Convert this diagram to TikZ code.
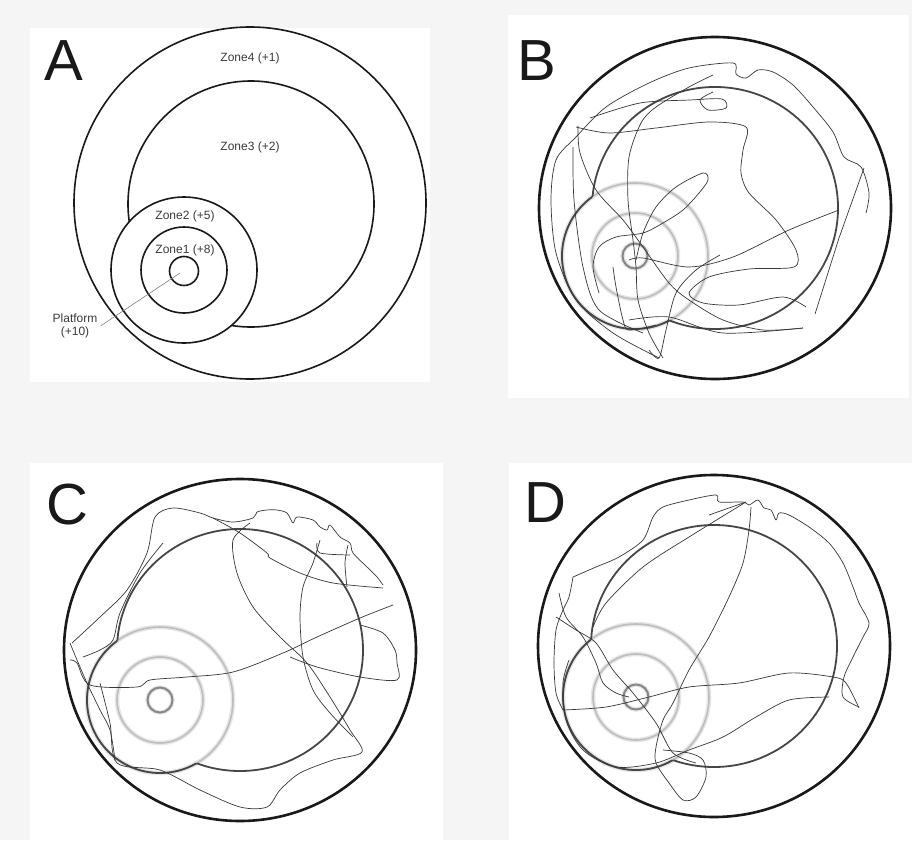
\documentclass[tikz,border=0pt]{standalone}
\usepackage{fontspec}
\setmainfont{Liberation Sans}
\definecolor{PoolBack}{RGB}{245,245,245}
\definecolor{PoolInk}{RGB}{25,25,25}
\definecolor{PoolZone}{RGB}{70,70,70}
\definecolor{PoolRing}{RGB}{190,190,190}
\definecolor{PoolHalo}{RGB}{230,230,230}
\definecolor{PoolCore}{RGB}{135,135,135}
\definecolor{PoolPath}{RGB}{55,55,55}

\begin{document}
\begin{tikzpicture}[
	x=1pt,
	y=-1pt,
	panelbox/.style={fill=white, draw=none},
	zoneA/.style={draw=PoolInk, line width=1.6pt},
	zonetext/.style={font=\fontsize{12}{13}\selectfont, text=PoolInk!85, inner sep=0pt},
	paneltag/.style={font=\fontsize{58}{58}\selectfont, text=PoolInk, inner sep=0pt},
	arenawall/.style={draw=PoolInk, line width=2.6pt},
	zonewall/.style={draw=PoolZone, line width=1.8pt},
	ringhalo/.style={draw=PoolHalo, line width=4.5pt},
	ringsoft/.style={draw=PoolRing, line width=1.6pt},
	ringcore/.style={draw=PoolCore, line width=2pt},
	swim/.style={draw=PoolPath, line width=0.7pt, line join=round},
	pointer/.style={draw=gray, line width=0.6pt}
	]
	
	\fill[PoolBack] (0,0) rectangle (912,840);
	\useasboundingbox (0,0) rectangle (912,840);
	
	\fill[panelbox] (30,28) rectangle (430,382);
	\fill[panelbox] (508,15) rectangle (909,398);
	\fill[panelbox] (30,463) rectangle (443,840);
	\fill[panelbox] (509,463) rectangle (912,840);
	
	\begin{scope}[even odd rule]
		\clip (0,0) rectangle (912,840) (184,270) circle (73);
		\draw[zoneA] (251,204) circle (123);
	\end{scope}
	\draw[zoneA] (250,203) circle (176);
	\draw[zoneA] (184,270) circle (73);
	\draw[zoneA] (184,270) circle (43);
	\draw[zoneA] (184,271) circle (14.5);
	
	\node[zonetext] (zone4A) at (250,58) {Zone4 (+1)};
	\node[zonetext] (zone3A) at (250,147) {Zone3 (+2)};
	\node[zonetext] (zone2A) at (185,216) {Zone2 (+5)};
	\node[zonetext] (zone1A) at (185,250) {Zone1 (+8)};
	\node[zonetext, align=center, inner sep=3pt] (plabel) at (75,326) {Platform\\(+10)};
	\coordinate (pA) at (180,273);
	\draw[pointer] (plabel.east) -- (pA);
	
	\foreach \ax/\ay/\px/\py in {715/208/635/256, 240/650/160/700, 714/646/636/697}{
		\draw[ringhalo] (\px,\py) circle (73);
		\draw[ringhalo] (\px,\py) circle (43);
		\draw[ringhalo] (\px,\py) circle (12.5);
		\draw[ringsoft] (\px,\py) circle (73);
		\draw[ringsoft] (\px,\py) circle (43);
		\draw[ringcore] (\px,\py) circle (12.5);
		\begin{scope}[even odd rule]
			\clip (0,0) rectangle (912,840) (\px,\py) circle (73);
			\draw[zonewall] (\ax,\ay) ellipse [x radius=123, y radius=121];
		\end{scope}
		\begin{scope}[even odd rule]
			\clip (0,0) rectangle (912,840) (\ax,\ay) ellipse [x radius=123, y radius=121];
			\draw[zonewall] (\px,\py) circle (73);
		\end{scope}
		\draw[arenawall] (\ax,\ay) ellipse [x radius=176, y radius=171];
	}
	
	\draw[swim] plot[smooth, tension=0.5] coordinates {(659,358) (613,333) (576,300) (556,253) (551,200) (556,160) (576,137) (606,107) (649,83) (689,68) (733,63) (736,74) (746,78) (758,70) (773,72) (793,85) (813,107) (833,132) (844,157) (861,167) (869,193) (866,213)};
	\draw[swim] (864,168) -- (839,238) -- (815,314);
	\draw[swim] plot[smooth, tension=0.5] coordinates {(839,210) (789,230) (733,257) (689,267) (643,258) (629,260)};
	\draw[swim] plot[smooth, tension=0.5] coordinates {(576,127) (609,133) (656,128) (709,122) (746,127) (743,150) (741,173) (749,193) (776,220) (796,250) (794,267) (749,269) (709,277) (689,293) (703,303) (739,305) (783,297) (806,307)};
	\draw[swim] plot[smooth, tension=0.5] coordinates {(636,260) (643,233) (656,207) (676,187) (703,173) (708,180) (699,193) (683,210) (663,223) (643,233) (616,237) (599,247) (593,267) (599,293)};
	\draw[swim] plot[smooth, tension=0.5] coordinates {(713,75) (689,87) (656,107) (641,123) (629,157) (628,200) (633,240) (636,267) (638,300) (649,333) (663,358)};
	\draw[swim] plot[smooth, tension=0.5] coordinates {(590,118) (640,103) (690,100) (722,99) (726,108) (708,110) (700,100) (713,92)};
	\draw[swim] plot[smooth, tension=0.5] coordinates {(578,126) (580,153) (596,190) (623,220) (643,247) (669,283) (689,300) (723,320) (763,330) (803,328)};
	\draw[swim] plot[smooth, tension=0.5] coordinates {(649,350) (659,358) (666,330) (676,293) (696,270) (720,255)};
	\draw[swim] plot[smooth, tension=0.5] coordinates {(613,267) (616,287) (623,320) (629,330) (656,325)};
	\draw[swim] plot[smooth, tension=0.5] coordinates {(573,147) (574,200) (583,267) (599,310) (643,333)};
	\draw[swim] plot[smooth, tension=0.5] coordinates {(629,320) (669,317) (723,333) (803,328)};
	
	\draw[swim] plot[smooth, tension=0.5] coordinates {(72,643) (100,617) (127,590) (147,553) (155,517) (173,508) (200,513) (213,518) (233,522) (253,518) (257,512) (267,510) (277,510) (287,513) (293,523) (297,517) (313,520) (320,527) (327,530) (330,525) (340,537) (350,543) (353,553) (367,567) (377,577) (383,585)};
	\draw[swim] plot[smooth, tension=0.5] coordinates {(213,518) (240,533) (267,553) (270,558) (300,573) (333,583) (383,588)};
	\draw[swim] plot[smooth, tension=0.5] coordinates {(393,605) (360,618) (317,637) (283,653) (233,672) (187,677) (150,680) (137,687) (90,685) (77,663) (70,660)};
	\draw[swim] plot[smooth, tension=0.5] coordinates {(250,523) (233,540) (237,573) (253,607) (280,637) (307,663) (330,697) (350,730) (362,752) (333,760) (300,773) (280,790) (267,807) (240,807) (200,790) (160,770) (117,763) (110,723) (100,683)};
	\draw[swim] plot[smooth, tension=0.5] coordinates {(320,540) (313,563) (303,587) (300,617) (303,657) (313,690) (330,713) (353,737)};
	\draw[swim] plot[smooth, tension=0.5] coordinates {(360,625) (383,633) (395,650) (397,663) (397,680) (360,677) (317,667) (290,657)};
	\draw[swim] plot[smooth, tension=0.5] coordinates {(163,543) (140,573) (120,613) (113,640) (100,650) (83,657)};
	\draw[swim] plot[smooth, tension=0.5] coordinates {(70,643) (77,660) (87,683) (100,710) (110,730) (115,760)};
	\draw[swim] plot[smooth, tension=0.5] coordinates {(348,545) (345,563) (347,587)};
	\draw[swim] plot[smooth, tension=0.5] coordinates {(317,543) (320,553) (350,555)};
	
	\draw[swim] plot[smooth, tension=0.5] coordinates {(573,577) (596,567) (619,557) (643,540) (653,517) (663,507) (689,500) (716,495) (719,502) (743,502) (749,505) (758,500) (764,508) (771,510) (776,520) (779,513) (789,515) (809,527) (829,543) (843,563) (853,587) (859,603) (869,623) (863,637) (853,657) (844,677) (843,697) (859,707)};
	\draw[swim] (709,515) -- (746,502);
	\draw[swim] plot[smooth, tension=0.5] coordinates {(746,502) (689,537) (643,567) (606,603) (593,627)};
	\draw[swim] plot[smooth, tension=0.5] coordinates {(751,507) (749,530) (743,563) (729,597) (709,637) (689,670) (673,703) (663,720) (656,747) (656,763) (669,783) (683,800) (696,797) (706,777) (703,760) (689,753) (663,750)};
	\draw[swim] plot[smooth, tension=0.5] coordinates {(563,710) (606,707) (649,697) (689,687) (739,683) (789,673) (833,677) (846,683) (859,708)};
	\draw[swim] plot[smooth, tension=0.5] coordinates {(829,697) (789,700) (756,717) (723,737) (689,750) (656,763) (616,767) (583,750) (566,720) (563,683) (569,660)};
	\draw[swim] plot[smooth, tension=0.5] coordinates {(573,577) (569,597) (563,610) (556,630) (554,663) (556,693) (563,710)};
	\draw[swim] plot[smooth, tension=0.5] coordinates {(559,593) (566,617) (583,637) (596,663) (603,683) (616,693) (629,697)};
	\draw[swim] plot[smooth, tension=0.5] coordinates {(556,617) (576,630) (596,643) (613,670) (633,693) (656,723) (673,753) (696,763)};
	
	\node[paneltag] (tagA) at (64,61) {A};
	\node[paneltag] (tagB) at (537,61) {B};
	\node[paneltag] (tagC) at (67,505) {C};
	\node[paneltag] (tagD) at (545,503) {D};
	
\end{tikzpicture}
\end{document}
